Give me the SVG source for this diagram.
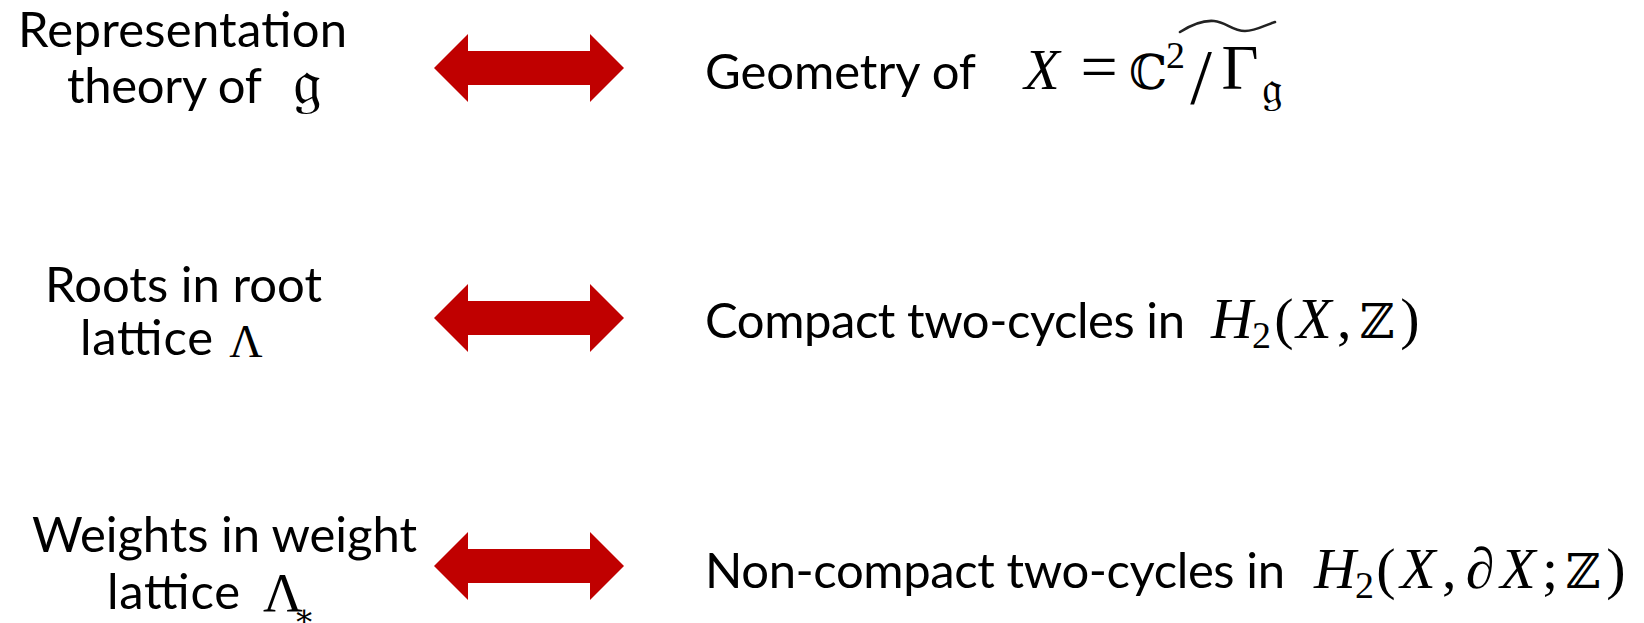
<svg xmlns="http://www.w3.org/2000/svg" width="1644" height="623" viewBox="0 0 1644 623">
<style>
.t{font-family:Lato,"Open Sans","Noto Sans",sans-serif;font-size:49px;fill:#000}
.m{font-family:"Liberation Serif","DejaVu Serif",serif;font-size:58px;fill:#000}
.i{font-style:italic}
.ds{font-family:"DejaVu Serif","Liberation Serif",serif;font-size:48px;fill:#000}
.fk{font-family:"DejaVu Serif","DejaVu Sans","Noto Sans",serif;fill:#000}
.arrow{fill:#C00000}
</style>
<defs>
<path id="dbl" d="M434,0 L468,-34 L468,-17 L590,-17 L590,-34 L624,0 L590,34 L590,17 L468,17 L468,34 Z"/>
</defs>
<rect width="1644" height="623" fill="#fff"/>

<g id="connectors">
<use href="#dbl" class="arrow" transform="translate(0,68)"/>
<use href="#dbl" class="arrow" transform="translate(0,318)"/>
<use href="#dbl" class="arrow" transform="translate(0,566)"/>
</g>

<g id="rep-theory">
<text class="t" x="18" y="47" textLength="329">Representation</text>
<text class="t" x="67" y="103" textLength="195">theory of</text>
<text class="fk" x="307" y="104" style="font-size:64px" text-anchor="middle">𝔤</text>
</g>

<g id="geometry">
<text class="t" x="705" y="89" textLength="271">Geometry of</text>
<text class="m i" x="1042" y="89" text-anchor="middle">X</text>
<text class="m" x="1099" y="89" style="font-size:66px" text-anchor="middle">=</text>
<text class="ds" x="1148" y="89" text-anchor="middle">ℂ</text>
<text class="m" x="1166" y="68" style="font-size:38px">2</text>
<text class="m" x="1201" y="103" style="font-size:78px" text-anchor="middle">/</text>
<text class="m" x="1240" y="89" style="font-size:64px" text-anchor="middle">Γ</text>
<text class="fk" x="1262" y="104" style="font-size:46px">𝔤</text>
<path d="M1180,32 C1191,25 1202,20 1214,21 C1226,22 1232,31 1245,31 C1256,31 1265,25 1275,22" fill="none" stroke="#222" stroke-width="2.6" stroke-linecap="round"/>
</g>

<g id="roots">
<text class="t" x="45" y="302" textLength="277">Roots in root</text>
<text class="t" x="80" y="355" textLength="133">lattice</text>
<text class="m" x="246" y="357" style="font-size:46px" text-anchor="middle">Λ</text>
</g>

<g id="compact">
<text class="t" x="705" y="338" textLength="480">Compact two-cycles in</text>
<text class="m i" x="1232" y="338" text-anchor="middle">H</text>
<text class="m" x="1252" y="348" style="font-size:38px">2</text>
<text class="m" x="1284" y="338" text-anchor="middle">(</text>
<text class="m i" x="1314" y="338" text-anchor="middle">X</text>
<text class="m" x="1337" y="338">,</text>
<text class="ds" x="1377" y="338" text-anchor="middle">ℤ</text>
<text class="m" x="1410" y="338" text-anchor="middle">)</text>
</g>

<g id="weights">
<text class="t" x="32" y="552" textLength="385">Weights in weight</text>
<text class="t" x="107" y="609" textLength="133">lattice</text>
<text class="m" x="283" y="611" style="font-size:55px" text-anchor="middle">Λ</text>
<text class="ds" x="304" y="627" style="font-size:32px" text-anchor="middle">∗</text>
</g>

<g id="noncompact">
<text class="t" x="705" y="588" textLength="580">Non-compact two-cycles in</text>
<text class="m i" x="1335" y="588" text-anchor="middle">H</text>
<text class="m" x="1355" y="598" style="font-size:38px">2</text>
<text class="m" x="1386" y="588" text-anchor="middle">(</text>
<text class="m i" x="1418" y="588" text-anchor="middle">X</text>
<text class="m" x="1442" y="588">,</text>
<text class="m i" x="1480" y="588" text-anchor="middle">∂</text>
<text class="m i" x="1518" y="588" text-anchor="middle">X</text>
<text class="m" x="1542" y="588">;</text>
<text class="ds" x="1583" y="588" text-anchor="middle">ℤ</text>
<text class="m" x="1616" y="588" text-anchor="middle">)</text>
</g>
</svg>
